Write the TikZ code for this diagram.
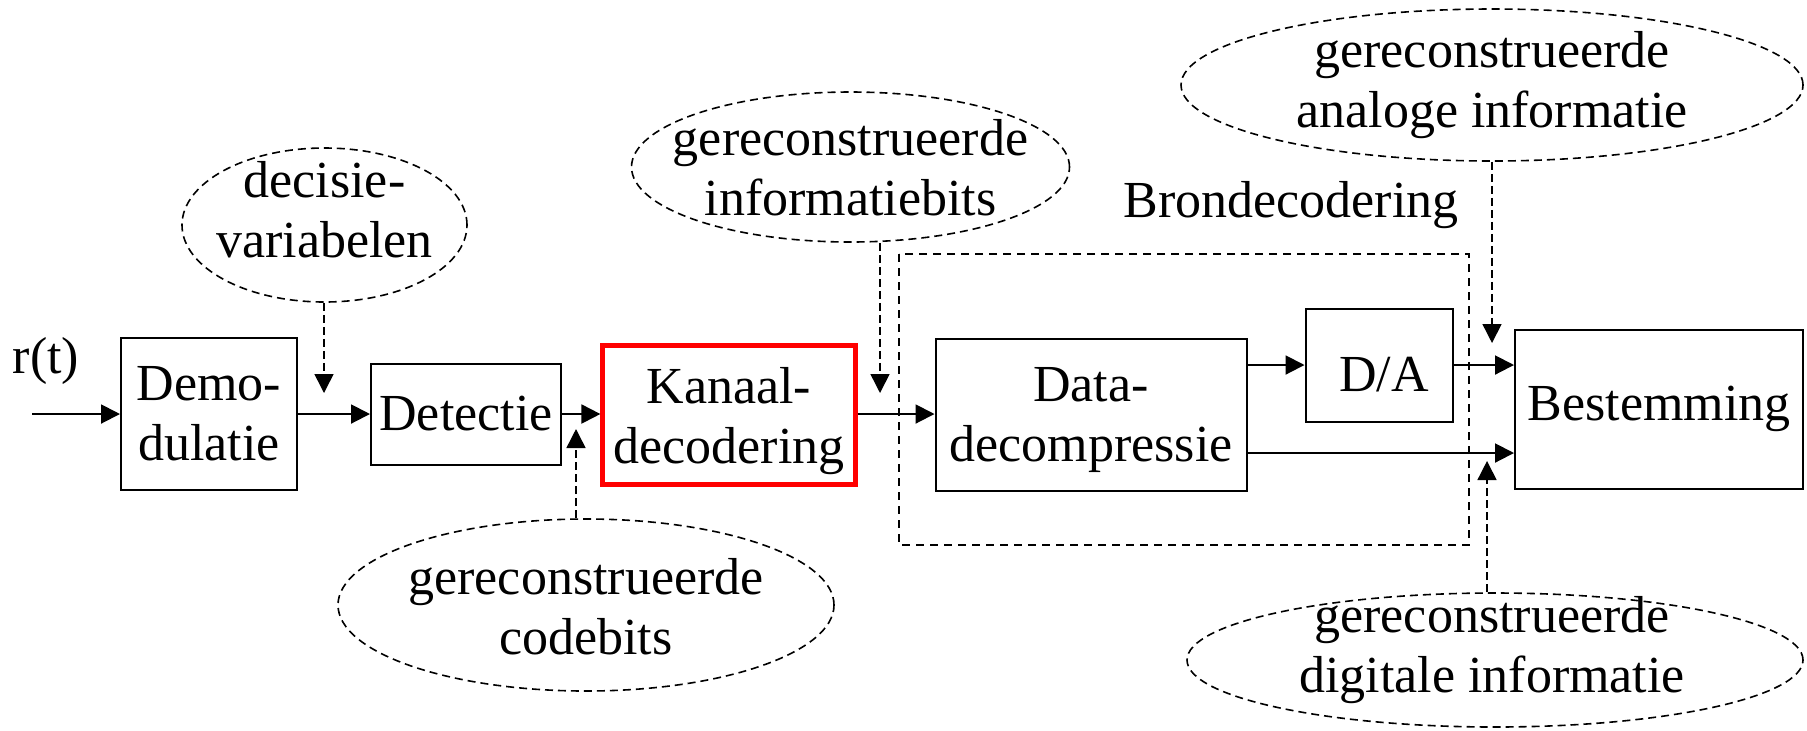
\documentclass[tikz,border=0pt]{standalone}
\usepackage{fontspec}
\setmainfont{Liberation Serif}
\usetikzlibrary{arrows.meta,shapes.geometric}
\begin{document}
\begin{tikzpicture}[x=0.5pt,y=-0.5pt,
  every node/.style={font=\fontsize{26}{30}\selectfont, align=center, inner sep=0pt},
  blk/.style={draw, line width=1pt, rectangle},
  oval/.style={draw, ellipse, dash pattern=on 4pt off 2.5pt, line width=0.8pt},
  arr/.style={line width=1pt, -{Triangle[length=9.5pt,width=9.5pt]}},
  darr/.style={line width=0.75pt, dash pattern=on 4pt off 2pt, -{Triangle[length=9.5pt,width=9.5pt]}},
  grp/.style={draw, dash pattern=on 4pt off 3pt, line width=1.1pt}
]
\useasboundingbox (0,0) rectangle (1807,730);

% group box
\draw[grp] (899,254) rectangle (1469,545);
\node (bron) at (1291,205) {Brondecodering};

% blocks
\node[blk, minimum width=88pt, minimum height=76pt] (demo) at (209,414) {Demo-\\dulatie};
\node[blk, minimum width=95pt, minimum height=50.5pt] (det) at (466,414) {Detectie};
\node[blk, draw=red, line width=2.1pt, minimum width=126.5pt, minimum height=69.5pt, text depth=0pt] (kan) at (729,415) {Kanaal-\\decodering};
\node[blk, minimum width=155.5pt, minimum height=76pt, text depth=0pt] (data) at (1091,414.5) {Data-\\decompressie};
\node[blk, minimum width=73.5pt, minimum height=56.5pt] (da) at (1379,365) {};
\node (datxt) at (1384,375) {D/A};
\node[blk, minimum width=144pt, minimum height=79.5pt] (best) at (1659,409) {Bestemming};

\node (rt) at (46,361) {r(t)};

% ellipses (outline only) and their texts
\node[oval, minimum width=142.5pt, minimum height=77pt] (dec) at (324.5,225) {};
\node (dectxt) at (324.5,210) {decisie-\\variabelen};
\node[oval, minimum width=219pt, minimum height=75pt] (ib) at (850.5,167) {};
\node (ibtxt) at (850.5,168) {gereconstrueerde\\informatiebits};
\node[oval, minimum width=248pt, minimum height=86pt] (cb) at (586,605) {};
\node (cbtxt) at (586,607) {gereconstrueerde\\codebits};
\node[oval, minimum width=311pt, minimum height=76pt] (an) at (1492,85) {};
\node (antxt) at (1492,85) {gereconstrueerde\\analoge informatie};
\node[oval, minimum width=308pt, minimum height=67pt] (dg) at (1495,660) {};
\node (dgtxt) at (1492,650) {gereconstrueerde\\digitale informatie};

% main signal path
\coordinate (in) at (32,414);
\draw[arr] (in) -- (demo.west);
\draw[arr] (demo.east) -- (det.west);
\draw[arr] (det.east) -- (kan.west |- det);
\draw[arr] (kan.east |- det) -- (data.west |- det);
\draw[arr] (data.east |- da) -- (da.west);
\draw[arr] (da.east) -- (best.west |- da);
\coordinate (lo) at (0,453);
\draw[arr] (data.east |- lo) -- (best.west |- lo);

% dashed info arrows
\coordinate (t1) at (324,393);
\draw[darr] (dec.south -| t1) -- (t1);
\coordinate (t2) at (880,393);
\draw[darr] (ib.south -| t2) -- (t2);
\coordinate (t3) at (576,429);
\draw[darr] (cb.north -| t3) -- (t3);
\coordinate (t4) at (1492,343);
\draw[darr] (an.south -| t4) -- (t4);
\coordinate (t5) at (1487,461);
\draw[darr] (dg.north -| t5) -- (t5);
\end{tikzpicture}
\end{document}
